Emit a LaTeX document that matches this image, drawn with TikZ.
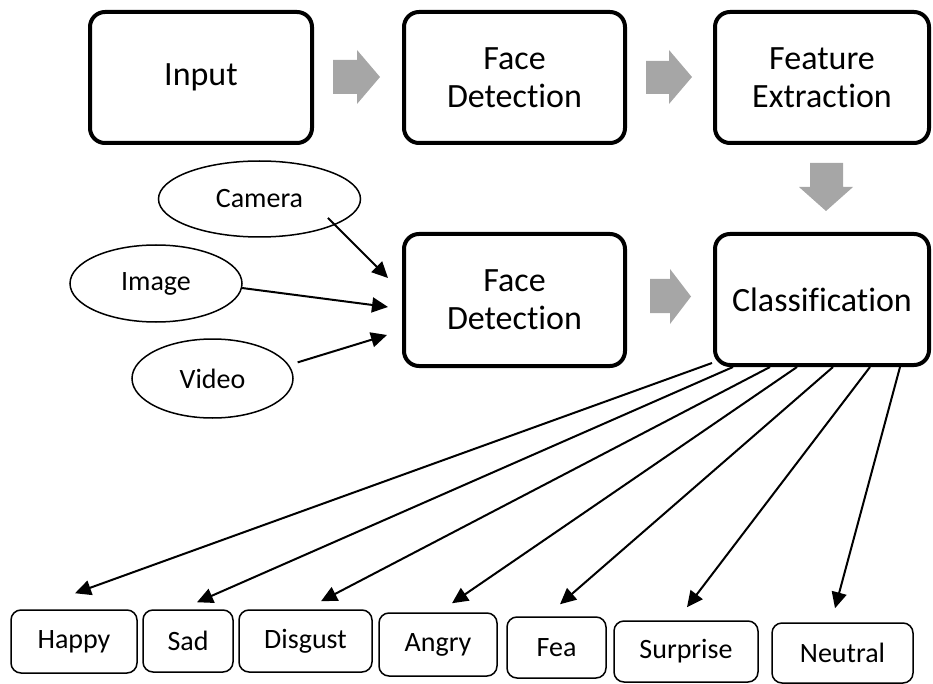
\documentclass[tikz,border=0pt]{standalone}
\usepackage{fontspec}
\setmainfont[Ligatures={NoCommon}]{Carlito}
\usetikzlibrary{arrows.meta,shapes.geometric}

\tikzset{
  stage/.style={draw, line width=4pt, rounded corners=15pt, align=center,
    font=\fontsize{34}{38}\selectfont, inner sep=0pt},
  source/.style={draw, ellipse, line width=1.5pt, inner sep=0pt,
    font=\fontsize{28}{32}\selectfont},
  emotion/.style={draw, line width=1.5pt, rounded corners=10pt, inner sep=0pt,
    font=\fontsize{28}{32}\selectfont},
  flow/.style={fill=black!35, draw=none},
  link/.style={line width=2pt, -{Triangle[length=16pt,width=15pt]}},
}

\begin{document}
\begin{tikzpicture}[x=1pt,y=-1pt]
\useasboundingbox (0,0) rectangle (933,684);

% main processing stages
\node[stage, minimum width=222pt, minimum height=131pt] (inp) at (201,77.5) {Input};
\node[stage, minimum width=221pt, minimum height=131pt] (fd1) at (514.5,77.5) {Face\\Detection};
\node[stage, minimum width=214pt, minimum height=131pt] (fe) at (822,77.5) {Feature\\Extraction};
\node[stage, minimum width=221pt, minimum height=132pt] (fd2) at (514.5,300) {Face\\Detection};
\node[stage, minimum width=214pt, minimum height=131pt] (cls) at (822,299.5) {Classification};

% block arrows between stages
\fill[flow] (333,60) -- (357,60) -- (357,50) -- (380,77) -- (357,104) -- (357,94) -- (333,94) -- cycle;
\fill[flow] (646,61) -- (669,61) -- (669,50) -- (692,77) -- (669,104) -- (669,94) -- (646,94) -- cycle;
\fill[flow] (810,163) -- (843,163) -- (843,187) -- (853,187) -- (826,211) -- (799,187) -- (810,187) -- cycle;
\fill[flow] (650,279) -- (670,279) -- (670,269) -- (691,296.5) -- (670,324) -- (670,313) -- (650,313) -- cycle;

% input sources
\node[source, minimum width=202pt, minimum height=76pt] (cam) at (259.5,199) {Camera};
\node[source, minimum width=172pt, minimum height=77pt] (img) at (156,283.5) {Image};
\node[source, minimum width=161pt, minimum height=79pt] (vid) at (212.5,378.5) {Video};

\coordinate (in1) at ([xshift=-14pt,yshift=22pt]fd2.west);
\coordinate (in2) at ([xshift=-14pt,yshift=-7pt]fd2.west);
\coordinate (in3) at ([xshift=-15pt,yshift=-35pt]fd2.west);

\draw[link, shorten <=-10pt] (cam.-19) -- (in1);
\draw[link] (img.-3) -- (in2);
\draw[link, shorten <=9pt] (vid.10) -- (in3);

% emotion classes
\node[emotion, minimum width=126pt, minimum height=63pt] (hap) at (74,641.5) {Happy};
\node[emotion, minimum width=90pt, minimum height=62pt] (sad) at (188,641) {Sad};
\node[emotion, minimum width=133pt, minimum height=62pt] (dis) at (305.5,641) {Disgust};
\node[emotion, minimum width=118pt, minimum height=63pt] (ang) at (438,644.5) {Angry};
\node[emotion, minimum width=99pt, minimum height=61pt] (fea) at (556.5,647.5) {Fea};
\node[emotion, minimum width=144pt, minimum height=61pt] (sur) at (686,651.5) {Surprise};
\node[emotion, minimum width=141pt, minimum height=60pt] (neu) at (842.5,653) {Neutral};

% classifier outputs
\draw[link] ([xshift=-1pt,yshift=4pt]cls.south west) -- ([xshift=1pt,yshift=16pt]hap.north);
\draw[link] ([xshift=20pt]cls.south west) -- ([xshift=9pt,yshift=7pt]sad.north);
\draw[link] ([xshift=57pt]cls.south west) -- ([xshift=15.5pt,yshift=8pt]dis.north);
\draw[link] ([xshift=84pt]cls.south west) -- ([xshift=14pt,yshift=9pt]ang.north);
\draw[link] ([xshift=120pt]cls.south west) -- ([xshift=3.5pt,yshift=12pt]fea.north);
\draw[link] ([xshift=157pt]cls.south west) -- ([xshift=1pt,yshift=13pt]sur.north);
\draw[link] ([xshift=187pt]cls.south west) -- ([xshift=-7.5pt,yshift=14pt]neu.north);
\end{tikzpicture}
\end{document}
